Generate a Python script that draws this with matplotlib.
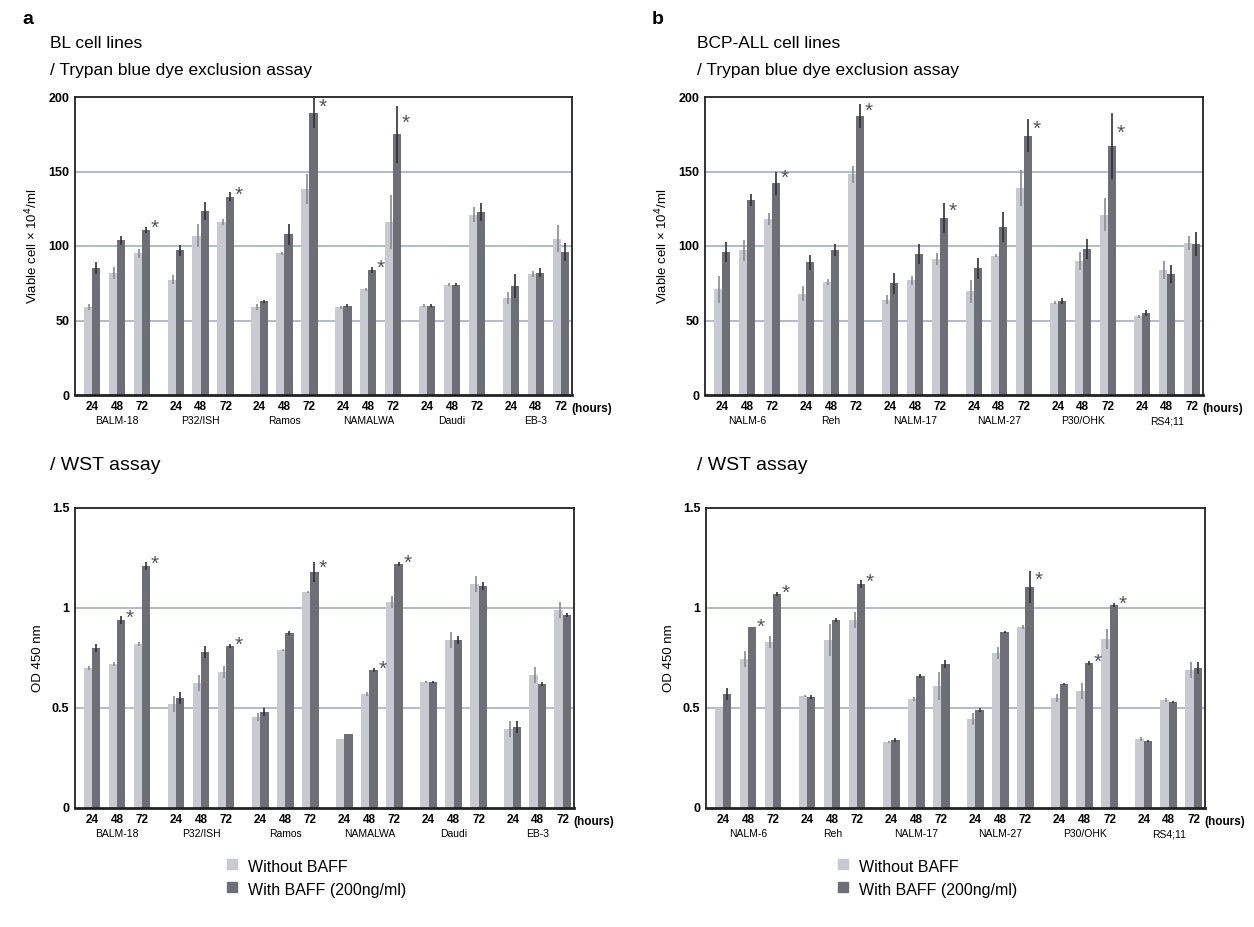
import numpy as np
import matplotlib
matplotlib.use("Agg")
import matplotlib.pyplot as plt

plt.rcParams['font.family'] = ['Liberation Sans', 'DejaVu Sans']

hours = ["24", "48", "72"]
bl_lines = ["BALM-18", "P32/ISH", "Ramos", "NAMALWA", "Daudi", "EB-3"]
bcp_lines = ["NALM-6", "Reh", "NALM-17", "NALM-27", "P30/OHK", "RS4;11"]

# Panel a, Trypan blue (viable cells x10^4/ml)
bl_try_without = [59, 82, 95, 77.5, 107, 116, 59, 95, 138, 59, 71, 116, 60, 74, 121, 65, 81, 105]
bl_try_with = [85, 104, 111, 97, 123.5, 133, 63, 108, 189, 60, 84, 175, 60, 74, 123, 73, 82, 96]
bl_try_without_err = [2, 4, 3, 3, 8, 2, 2, 1, 10, 1, 1, 18, 1, 1, 5, 4, 2, 9]
bl_try_with_err = [4, 3, 2, 4, 6, 3, 1, 7, 10, 1, 2, 19, 1, 1, 6, 8, 3, 6]
bl_try_star = [2, 5, 8, 10, 11]

# Panel a, WST (OD 450 nm)
bl_wst_without = [0.70, 0.72, 0.82, 0.52, 0.625, 0.68, 0.455, 0.79, 1.08, 0.345, 0.57, 1.03, 0.63, 0.84, 1.12, 0.395, 0.665, 0.99]
bl_wst_with = [0.80, 0.94, 1.21, 0.55, 0.78, 0.81, 0.48, 0.875, 1.18, 0.37, 0.69, 1.22, 0.63, 0.84, 1.11, 0.405, 0.62, 0.965]
bl_wst_without_err = [0.01, 0.01, 0.01, 0.04, 0.04, 0.03, 0.02, 0.005, 0.005, 0.0, 0.01, 0.03, 0.005, 0.04, 0.04, 0.04, 0.04, 0.04]
bl_wst_with_err = [0.02, 0.02, 0.02, 0.03, 0.03, 0.01, 0.02, 0.01, 0.05, 0.0, 0.01, 0.01, 0.005, 0.02, 0.02, 0.03, 0.01, 0.01]
bl_wst_star = [1, 2, 5, 8, 10, 11]

# Panel b, Trypan blue
bcp_try_without = [71, 97, 118, 68, 76, 148, 64, 77, 91, 69.5, 93.5, 139, 62, 90, 121, 53, 84, 102]
bcp_try_with = [96, 131, 142, 89, 97.5, 187, 75, 94.6, 119, 85, 113, 174, 63, 98, 167, 55, 81, 101.6]
bcp_try_without_err = [9, 7, 4, 5, 2, 6, 3, 3, 4, 8, 1, 12, 1, 6, 11, 1, 6, 5]
bcp_try_with_err = [7, 4, 8, 5, 4, 8, 7, 7, 10, 7, 10, 11, 2, 7, 22, 2, 6, 8]
bcp_try_star = [2, 5, 8, 11, 14]

# Panel b, WST
bcp_wst_without = [0.50, 0.747, 0.83, 0.562, 0.84, 0.94, 0.33, 0.545, 0.61, 0.445, 0.775, 0.907, 0.55, 0.587, 0.845, 0.345, 0.542, 0.69]
bcp_wst_with = [0.57, 0.903, 1.07, 0.555, 0.94, 1.12, 0.34, 0.66, 0.72, 0.49, 0.88, 1.105, 0.62, 0.725, 1.013, 0.337, 0.528, 0.70]
bcp_wst_without_err = [0.0, 0.04, 0.03, 0.005, 0.08, 0.04, 0.005, 0.01, 0.07, 0.03, 0.03, 0.01, 0.02, 0.04, 0.05, 0.01, 0.01, 0.04]
bcp_wst_with_err = [0.03, 0.0, 0.01, 0.01, 0.01, 0.02, 0.01, 0.01, 0.02, 0.01, 0.005, 0.08, 0.005, 0.01, 0.01, 0.005, 0.005, 0.03]
bcp_wst_star = [1, 2, 5, 11, 13, 14]

LIGHT = "#c9c9d1"
DARK = "#6e6e76"
GRID = "#a9b5cc"

W = 1254
H = 927
fig = plt.figure(figsize=(W / 100, H / 100), dpi=100)


def ax_at(x0, y0, x1, y1):
    return fig.add_axes([x0 / W, 1 - y1 / H, (x1 - x0) / W, (y1 - y0) / H])


gap = 0.36
pos = np.array([g * (3 + gap) + t for g in range(6) for t in range(3)], dtype=float)
bw = 0.33


def draw(ax, without, with_, e1, e2, stars, ymax, yticks, yticklabels, lines, ylabel):
    ax.set_xlim(-0.68, pos[-1] + 0.45)
    ax.set_ylim(0, ymax)
    for yv in yticks[1:-1]:
        ax.axhline(yv, color=GRID, lw=1.3, zorder=0)
    ax.bar(pos - bw / 2, without, bw, color=LIGHT, zorder=2, linewidth=0)
    ax.bar(pos + bw / 2, with_, bw, color=DARK, zorder=2, linewidth=0)
    ax.errorbar(pos - bw / 2 + 0.06, without, yerr=e1, fmt='none', ecolor="#8a8a92",
                elinewidth=1.2, capsize=0, zorder=3)
    ax.errorbar(pos + bw / 2, with_, yerr=e2, fmt='none', ecolor="#303036",
                elinewidth=1.2, capsize=0, zorder=3)
    for i in stars:
        ax.text(pos[i] + bw + 0.02, with_[i] + e2[i] * 0.4, "*", fontsize=15,
                color="#555", ha="left", va="center", zorder=4)
    ax.set_yticks(yticks)
    ax.set_yticklabels(yticklabels, fontsize=9, fontweight="bold")
    ax.tick_params(axis='y', length=0, pad=4)
    ax.set_xticks(pos)
    ax.set_xticklabels(hours * 6, fontsize=8.5, fontweight="bold")
    ax.tick_params(axis='x', length=0, pad=4)
    for s in ax.spines.values():
        s.set_linewidth(1.3)
        s.set_color("#222")
    ax.spines['bottom'].set_linewidth(2)
    ax.text(pos[-1] + 0.42, -0.047 * ymax, "(hours)", fontsize=8.5, fontweight="bold",
            ha="left", va="center", transform=ax.transData, clip_on=False)
    for g, name in enumerate(lines):
        ax.text(pos[g * 3 + 1], -0.088 * ymax, name, fontsize=7.5, ha="center",
                va="center", clip_on=False)
    ax.set_ylabel(ylabel, fontsize=9.5, labelpad=6)


try_ticks = [0, 50, 100, 150, 200]
wst_ticks = [0, 0.5, 1.0, 1.5]
wst_lab = ["0", "0.5", "1", "1.5"]

ax1 = ax_at(75, 97, 572, 395)
draw(ax1, bl_try_without, bl_try_with, bl_try_without_err, bl_try_with_err, bl_try_star,
     200, try_ticks, [str(t) for t in try_ticks], bl_lines, "Viable cell \u00d7 10$^4$/ml")
ax2 = ax_at(705, 97, 1203, 395)
draw(ax2, bcp_try_without, bcp_try_with, bcp_try_without_err, bcp_try_with_err, bcp_try_star,
     200, try_ticks, [str(t) for t in try_ticks], bcp_lines, "Viable cell \u00d7 10$^4$/ml")
ax3 = ax_at(75, 508, 574, 808)
draw(ax3, bl_wst_without, bl_wst_with, bl_wst_without_err, bl_wst_with_err, bl_wst_star,
     1.5, wst_ticks, wst_lab, bl_lines, "OD 450 nm")
ax4 = ax_at(706, 508, 1205, 808)
draw(ax4, bcp_wst_without, bcp_wst_with, bcp_wst_without_err, bcp_wst_with_err, bcp_wst_star,
     1.5, wst_ticks, wst_lab, bcp_lines, "OD 450 nm")


def ftext(x, y, s, **kw):
    fig.text(x / W, 1 - y / H, s, **kw)


ftext(22, 20, "a", fontsize=14, fontweight="bold", va="center")
ftext(652, 20, "b", fontsize=14, fontweight="bold", va="center")
ftext(50, 44, "BL cell lines", fontsize=12.5, va="center")
ftext(50, 70, "/ Trypan blue dye exclusion assay", fontsize=12.5, va="center")
ftext(697, 44, "BCP-ALL cell lines", fontsize=12.5, va="center")
ftext(697, 70, "/ Trypan blue dye exclusion assay", fontsize=12.5, va="center")
ftext(50, 466, "/ WST assay", fontsize=14, va="center")
ftext(697, 466, "/ WST assay", fontsize=14, va="center")

# legends
for lx, tx in [(232, 248), (843, 859)]:
    for yy, col, lab in [(864, LIGHT, "Without BAFF"), (887, DARK, "With BAFF (200ng/ml)")]:
        fig.patches.append(matplotlib.patches.Rectangle(((lx - 5) / W, 1 - (yy + 5) / H), 10 / W, 10 / H,
                                                        transform=fig.transFigure, color=col))
        ftext(tx, yy + 3, lab, fontsize=11.5, va="center")

fig.savefig("out.png", dpi=100, facecolor="white")
